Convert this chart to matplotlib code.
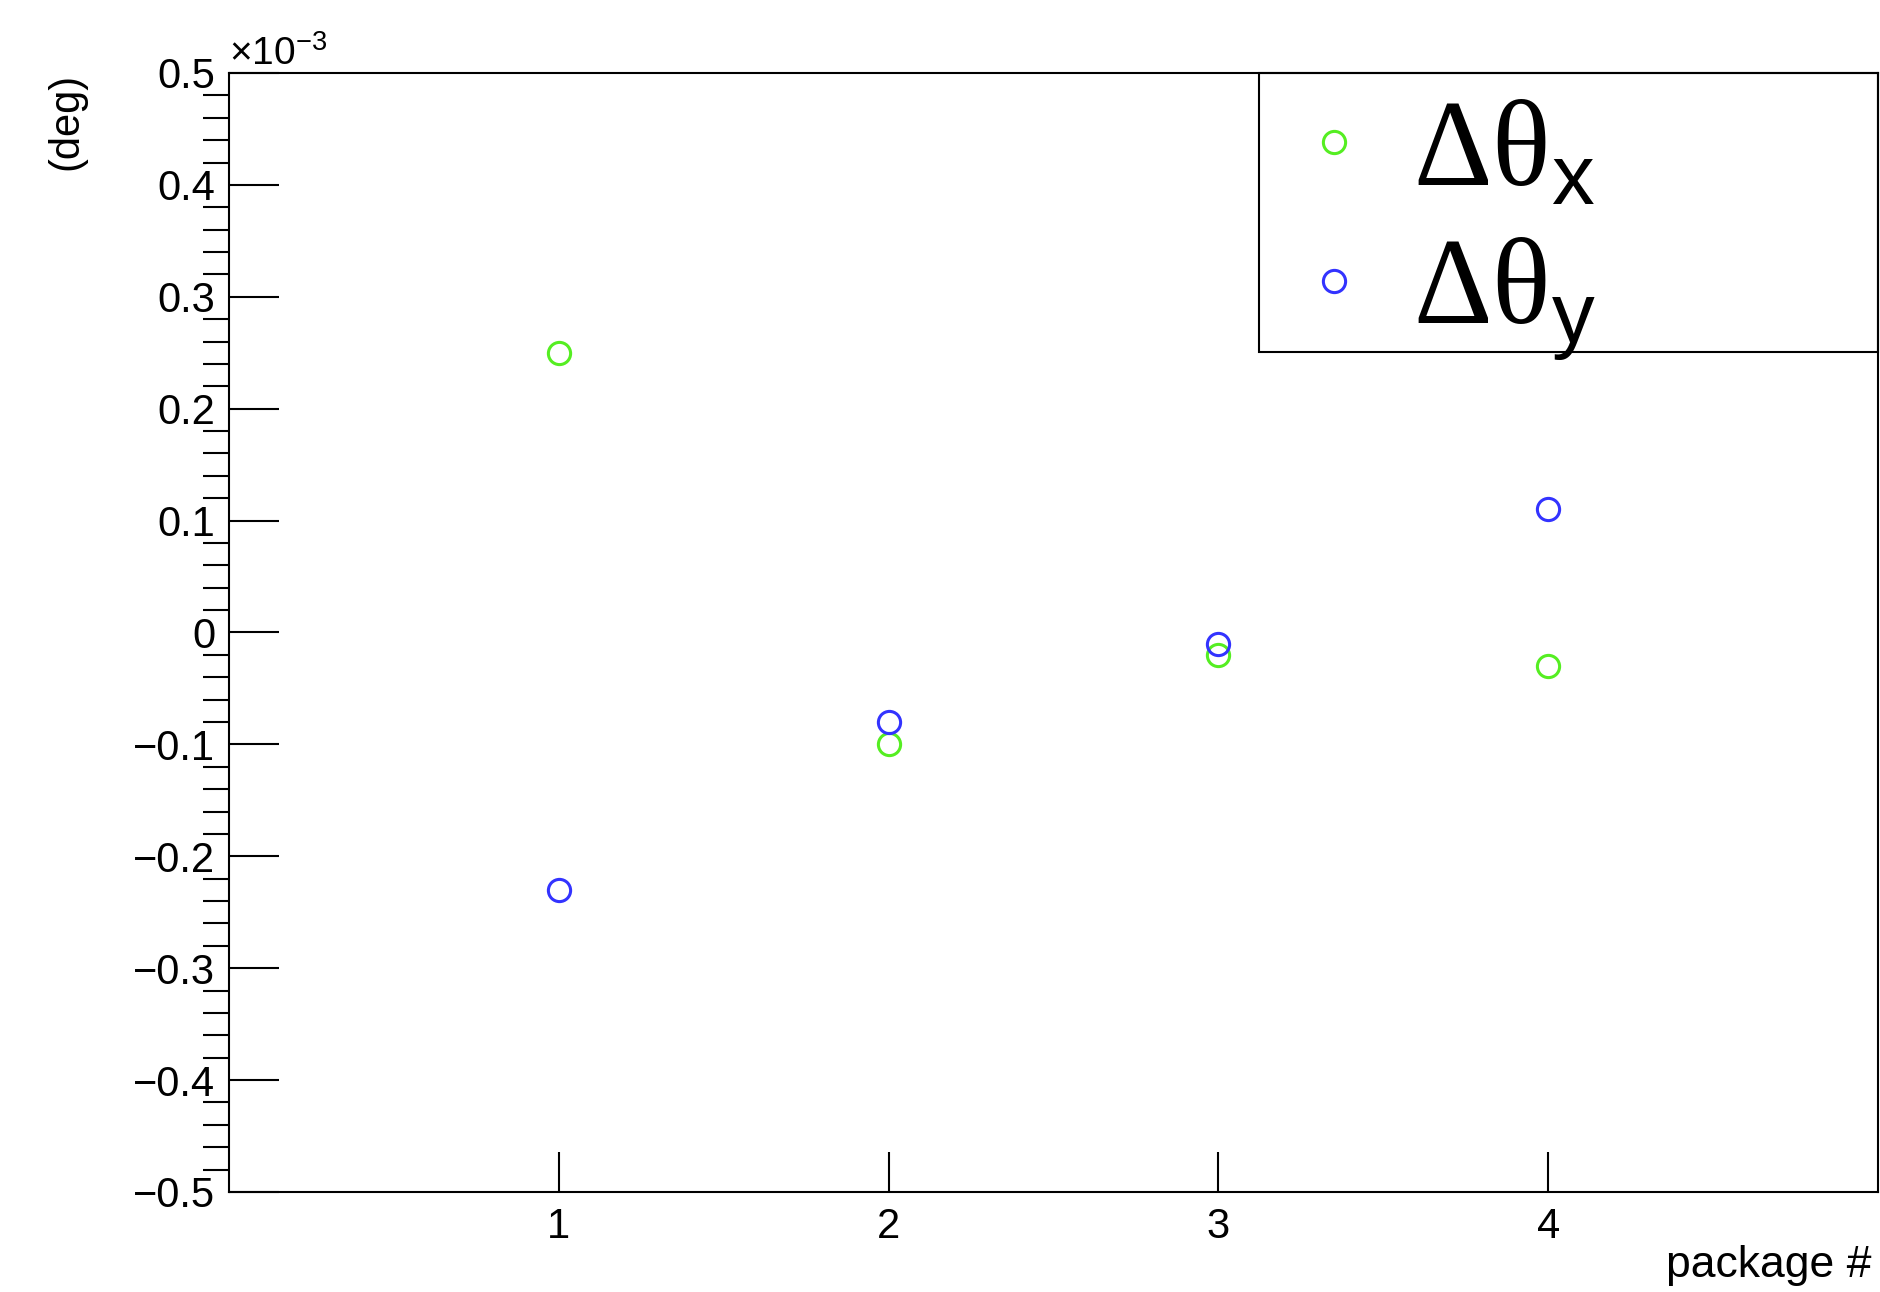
import numpy as np
import matplotlib.pyplot as plt
from matplotlib.patches import Rectangle
from matplotlib.ticker import MultipleLocator, FuncFormatter

# data (units of 1e-3 deg)
packages = [1, 2, 3, 4]
dtheta_x = [0.25, -0.10, -0.02, -0.03]
dtheta_y = [-0.23, -0.08, -0.01, 0.11]

green = '#55ee22'
blue = '#3333ff'

plt.rcParams['font.family'] = ['Liberation Sans', 'DejaVu Sans']
plt.rcParams['mathtext.fontset'] = 'custom'
plt.rcParams['mathtext.rm'] = 'Liberation Serif'
plt.rcParams['mathtext.sf'] = 'Liberation Sans'

fig = plt.figure(figsize=(18.81, 12.92), dpi=100)
ax = fig.add_axes([0.1217, 0.0774, 0.8767, 0.8661])

ax.plot(packages, dtheta_x, linestyle='none', marker='o', markersize=16,
        markerfacecolor='none', markeredgecolor=green, markeredgewidth=2.2,
        label=r'$\mathregular{Δθ}_\mathsf{x}$')
ax.plot(packages, dtheta_y, linestyle='none', marker='o', markersize=16,
        markerfacecolor='none', markeredgecolor=blue, markeredgewidth=2.2,
        label=r'$\mathregular{Δθ}_\mathsf{y}$')

ax.set_xlim(0, 5)
ax.set_ylim(-0.5, 0.5)

# ROOT-like ticks: inside, left / bottom only
ax.set_xticks(packages)
ax.yaxis.set_major_locator(MultipleLocator(0.1))
ax.yaxis.set_minor_locator(MultipleLocator(0.02))
ax.tick_params(axis='both', direction='in', labelsize=30, width=1.5)
ax.tick_params(axis='y', which='major', length=36, pad=10)
ax.tick_params(axis='y', which='minor', length=19, width=1.5)
ax.tick_params(axis='x', which='major', length=29, pad=11)


def fmt(v, pos):
    if abs(v) < 1e-9:
        return '0'
    return f'{v:.1f}'.replace('-', '\u2212')


ax.yaxis.set_major_formatter(FuncFormatter(fmt))
for s in ax.spines.values():
    s.set_linewidth(1.5)

ax.text(0.0, 1.0, r'$\mathregular{\times10^{-3}}$', transform=ax.transAxes,
        ha='left', va='bottom', fontsize=28)

ax.set_ylabel('(deg)', fontsize=30, loc='top')
ax.yaxis.set_label_coords(-0.0867, 1.0)
ax.set_xlabel('package #', fontsize=32, loc='right')
ax.xaxis.set_label_coords(0.996, -0.066)
ax.xaxis.label.set_va('center')

# legend box
ax.add_patch(Rectangle((0.6245, 0.751), 0.3755, 0.249, transform=ax.transAxes,
                       fill=False, edgecolor='black', linewidth=1.5, clip_on=False))
leg = ax.legend(loc='upper left', bbox_to_anchor=(0.607, 1.042), frameon=False,
                prop={'family': 'Liberation Serif', 'size': 88},
                handlelength=0.5, handletextpad=0.4, labelspacing=0.2,
                borderpad=0.1)

fig.savefig('out.png', dpi=100, facecolor='white')
